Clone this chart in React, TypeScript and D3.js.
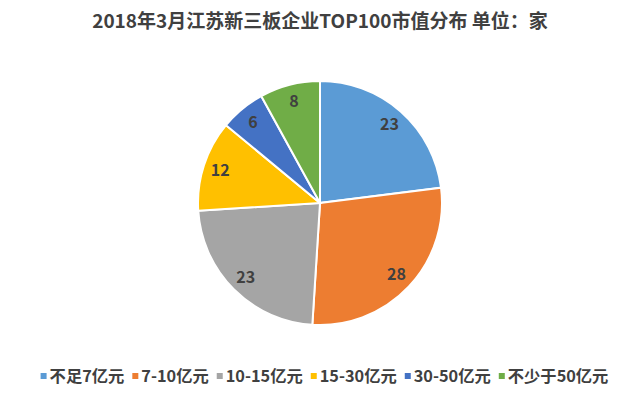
import React, { useRef, useEffect } from "react";
import * as d3 from "d3";

const categories = ["不足7亿元", "7-10亿元", "10-15亿元", "15-30亿元", "30-50亿元", "不少于50亿元"];
const values = [23, 28, 23, 12, 6, 8];
const colors = ["#5B9BD5", "#ED7D31", "#A5A5A5", "#FFC000", "#4472C4", "#70AD47"];
const title = "2018年3月江苏新三板企业TOP100市值分布  单位：家";

const App = () => {
  const svgRef = useRef<SVGSVGElement>(null);

  useEffect(() => {
    const svg = d3.select(svgRef.current);
    svg.selectAll("*").remove();
    const width = 640,
      height = 399,
      cx = 320,
      cy = 203,
      radius = 122,
      labelRadius = 105,
      font = "'Noto Sans CJK SC', 'Noto Sans', sans-serif";

    svg.append("rect").attr("width", width).attr("height", height).attr("fill", "#fff");

    svg
      .append("text")
      .attr("x", width / 2)
      .attr("y", 28)
      .attr("text-anchor", "middle")
      .attr("font-family", font)
      .attr("font-weight", "bold")
      .attr("font-size", 19)
      .attr("fill", "#404040")
      .text(title);

    const pie = d3.pie<number>().sort(null).value((d) => d);
    const arcs = pie(values);
    const arc = d3.arc<d3.PieArcDatum<number>>().innerRadius(0).outerRadius(radius);
    const labelArc = d3
      .arc<d3.PieArcDatum<number>>()
      .innerRadius(labelRadius)
      .outerRadius(labelRadius);

    const g = svg.append("g").attr("transform", `translate(${cx},${cy})`);
    g.selectAll("path")
      .data(arcs)
      .enter()
      .append("path")
      .attr("d", arc)
      .attr("fill", (d, i) => colors[i])
      .attr("stroke", "#fff")
      .attr("stroke-width", 2);

    g.selectAll("text")
      .data(arcs)
      .enter()
      .append("text")
      .attr("transform", (d) => `translate(${labelArc.centroid(d)})`)
      .attr("text-anchor", "middle")
      .attr("dy", "0.35em")
      .attr("font-family", font)
      .attr("font-weight", "bold")
      .attr("font-size", 16)
      .attr("fill", "#404040")
      .text((d) => d.data);

    // legend
    const legend = svg.append("g");
    const items = legend
      .selectAll("g")
      .data(categories)
      .enter()
      .append("g");
    items
      .append("rect")
      .attr("width", 6)
      .attr("height", 6)
      .attr("y", -3)
      .attr("fill", (d, i) => colors[i]);
    items
      .append("text")
      .attr("x", 9)
      .attr("dy", "0.35em")
      .attr("font-family", font)
      .attr("font-weight", "bold")
      .attr("font-size", 16.3)
      .attr("fill", "#404040")
      .text((d) => d);

    let x = 0;
    const offsets: number[] = [];
    items.each(function () {
      offsets.push(x);
      const t = (this as SVGGElement).querySelector("text") as SVGTextElement;
      x += 9 + t.getComputedTextLength() + 8;
    });
    items.attr("transform", (d, i) => `translate(${offsets[i]},0)`);
    const total = x - 8;
    legend.attr("transform", `translate(${(42 + 607) / 2 - total / 2},376)`);
  }, []);

  return (
    <svg
      ref={svgRef}
      width={640}
      height={399}
      style={{ display: "block", position: "absolute", left: 0, top: 0 }}
    ></svg>
  );
};

export default App;
